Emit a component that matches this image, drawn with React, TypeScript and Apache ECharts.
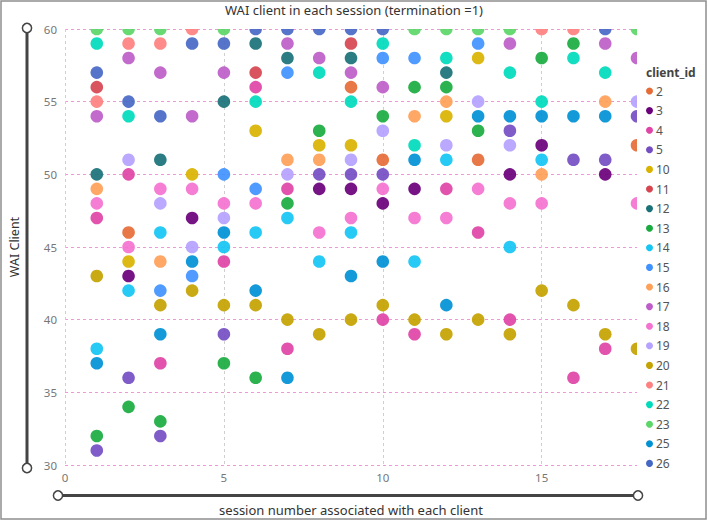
import React, { useEffect, useRef } from 'react';
import * as echarts from 'echarts';

// legend order and Power BI palette colours
const clientIds = ['2', '3', '4', '5', '10', '11', '12', '13', '14', '15', '16', '17', '18', '19', '20', '21', '22', '23', '25', '26'];
const clientColors = ['#E66C37', '#6B007B', '#E044A7', '#744EC2', '#D9B300', '#D64550', '#197278', '#1AAB40', '#15C6F4', '#4092FF', '#FFA058', '#BE5DC9', '#F472D0', '#B5A1FF', '#C4A200', '#FF8080', '#00DBBC', '#5BD667', '#0091D5', '#4668C5'];

// [session number, WAI client]
const client2 = [[2, 46], [9, 56], [10, 51], [13, 51], [18, 52]];
const client3 = [[2, 43], [4, 47], [8, 49], [9, 49], [10, 48], [11, 49], [14, 50], [15, 52], [17, 50]];
const client4 = [[1, 47], [2, 50], [3, 37], [5, 44], [6, 56], [7, 49], [7, 38], [10, 40], [11, 39], [12, 49], [13, 46], [14, 40], [16, 36], [17, 38]];
const client5 = [[1, 31], [2, 36], [3, 32], [5, 39], [8, 50], [9, 50], [10, 50], [14, 53], [16, 51], [17, 51], [18, 54]];
const client10 = [[2, 44], [4, 50], [6, 53], [8, 52], [9, 52], [12, 54], [13, 58]];
const client11 = [[1, 56], [6, 57], [9, 59]];
const client12 = [[1, 50], [3, 51], [5, 55], [6, 59], [7, 58], [9, 58], [12, 57]];
const client13 = [[1, 32], [2, 34], [3, 33], [5, 37], [6, 36], [7, 48], [8, 53], [10, 54], [11, 56], [12, 56], [13, 53], [15, 58], [16, 59]];
const client14 = [[1, 38], [2, 42], [3, 46], [5, 45], [6, 46], [7, 47], [8, 44], [9, 46], [11, 44], [12, 51], [14, 45], [15, 51]];
const client15 = [[3, 42], [4, 43], [5, 50], [6, 49], [7, 57], [10, 58], [11, 58], [13, 59]];
const client16 = [[1, 49], [3, 44], [7, 51], [8, 51], [11, 54], [12, 55], [15, 50], [17, 55]];
const client17 = [[1, 54], [2, 58], [3, 57], [4, 54], [5, 57], [7, 59], [8, 58], [9, 57], [10, 56], [14, 59], [17, 59], [18, 58]];
const client18 = [[1, 48], [2, 45], [3, 49], [4, 49], [5, 48], [6, 48], [8, 46], [9, 47], [10, 49], [11, 47], [12, 47], [13, 49], [14, 48], [15, 48], [18, 48]];
const client19 = [[2, 51], [3, 48], [4, 45], [5, 47], [7, 50], [9, 51], [10, 53], [12, 52], [13, 55], [14, 52], [18, 55]];
const client20 = [[1, 43], [3, 41], [4, 42], [5, 41], [6, 41], [7, 40], [8, 39], [9, 40], [10, 41], [11, 40], [12, 39], [13, 40], [14, 39], [15, 42], [16, 41], [17, 39], [18, 38]];
const client21 = [[1, 55], [2, 59], [3, 59], [4, 60], [15, 60], [16, 60]];
const client22 = [[1, 59], [2, 54], [6, 55], [8, 57], [9, 55], [10, 59], [11, 52], [12, 58], [14, 57], [15, 55], [16, 58], [17, 57]];
const client23 = [[1, 60], [2, 60], [3, 60], [5, 60], [11, 60], [12, 60], [13, 60], [14, 60], [18, 60]];
const client25 = [[1, 37], [3, 39], [4, 44], [5, 46], [6, 42], [7, 36], [9, 43], [10, 44], [11, 51], [12, 41], [13, 54], [14, 54], [15, 54], [16, 54], [17, 54]];
const client26 = [[1, 57], [2, 55], [3, 54], [4, 59], [5, 59], [6, 60], [7, 60], [8, 60], [9, 60], [10, 60], [17, 60]];

const clientPoints = [client2, client3, client4, client5, client10, client11, client12, client13, client14, client15, client16, client17, client18, client19, client20, client21, client22, client23, client25, client26];

const xMin = 0;
const xMax = 18;
const xInterval = 5;
const yMin = 30;
const yMax = 60;
const yInterval = 5;

const FONT = '"Noto Sans", "Open Sans", sans-serif';

export default function App() {
  const ref = useRef<HTMLDivElement>(null);

  useEffect(() => {
    if (!ref.current) return;
    const chart = echarts.init(ref.current, undefined, { renderer: 'svg' });

    const series = clientIds.map((id, i) => ({
      type: 'custom',
      name: id,
      coordinateSystem: 'cartesian2d',
      clip: true,
      encode: { x: 0, y: 1 },
      itemStyle: { color: clientColors[i] },
      data: clientPoints[i],
      renderItem: (params: any, api: any) => {
        const p = api.coord([api.value(0), api.value(1)]);
        return {
          type: 'circle',
          shape: { cx: p[0], cy: p[1], r: 6.3 },
          style: { fill: api.visual('color'), opacity: 0.92 },
        };
      },
    }));

    const option: any = {
      animation: false,
      textStyle: { fontFamily: FONT },
      title: [
        {
          text: 'WAI client in each session (termination =1)',
          left: 'center',
          top: 3,
          padding: 0,
          textStyle: { fontFamily: FONT, fontSize: 13, fontWeight: 'normal', color: '#333' },
        },
        {
          text: 'client_id',
          left: 646,
          top: 66,
          padding: 0,
          textStyle: { fontFamily: FONT, fontSize: 12, fontWeight: 'bold', color: '#444' },
        },
      ],
      legend: {
        orient: 'vertical',
        left: 646,
        top: 84,
        padding: 0,
        icon: 'circle',
        itemWidth: 7,
        itemHeight: 7,
        itemGap: 5.6,
        selectedMode: false,
        textStyle: { fontFamily: FONT, fontSize: 12, color: '#555', lineHeight: 14, padding: [0, 0, 0, -2] },
        data: clientIds,
      },
      grid: { left: 60, right: 71, top: 29, bottom: 55, containLabel: false },
      xAxis: {
        type: 'value',
        min: xMin,
        max: xMax,
        interval: xInterval,
        name: 'session number associated with each client',
        nameLocation: 'middle',
        nameGap: 38,
        nameTextStyle: { fontFamily: FONT, fontSize: 13, color: '#333' },
        axisLine: { show: false },
        axisTick: { show: false },
        axisLabel: { showMaxLabel: false, color: '#777', fontSize: 11.5, margin: 6, fontFamily: FONT },
        splitLine: {
          show: true,
          lineStyle: { color: ['#cfcfcf', '#cfcfcf', '#cfcfcf', '#cfcfcf', 'rgba(0,0,0,0)'], type: [3, 3], width: 1 },
        },
      },
      yAxis: {
        type: 'value',
        min: yMin,
        max: yMax,
        interval: yInterval,
        name: 'WAI Client',
        nameLocation: 'middle',
        nameGap: 44,
        nameTextStyle: { fontFamily: FONT, fontSize: 12.5, color: '#333' },
        axisLine: { show: false },
        axisTick: { show: false },
        axisLabel: { color: '#777', fontSize: 11.5, margin: 8, fontFamily: FONT },
        splitLine: { show: true, lineStyle: { color: '#EE99D6', type: [3, 3], width: 1 } },
      },
      graphic: [
        {
          type: 'rect',
          silent: true,
          shape: { x: 1, y: 1, width: 705, height: 518 },
          style: { fill: 'none', stroke: '#8f8f8f', lineWidth: 1.5 },
          z: 0,
        },
        {
          type: 'line',
          silent: true,
          shape: { x1: 27, y1: 28, x2: 27, y2: 468 },
          style: { stroke: '#444', lineWidth: 3 },
          z: 5,
        },
        {
          type: 'circle',
          silent: true,
          shape: { cx: 27, cy: 28, r: 4.6 },
          style: { fill: '#fff', stroke: '#444', lineWidth: 1.5 },
          z: 6,
        },
        {
          type: 'circle',
          silent: true,
          shape: { cx: 27, cy: 468, r: 4.6 },
          style: { fill: '#fff', stroke: '#444', lineWidth: 1.5 },
          z: 6,
        },
        {
          type: 'line',
          silent: true,
          shape: { x1: 58, y1: 495.5, x2: 638, y2: 495.5 },
          style: { stroke: '#444', lineWidth: 3 },
          z: 5,
        },
        {
          type: 'circle',
          silent: true,
          shape: { cx: 58, cy: 495.5, r: 4.6 },
          style: { fill: '#fff', stroke: '#444', lineWidth: 1.5 },
          z: 6,
        },
        {
          type: 'circle',
          silent: true,
          shape: { cx: 638, cy: 495.5, r: 4.6 },
          style: { fill: '#fff', stroke: '#444', lineWidth: 1.5 },
          z: 6,
        },
      ],
      series,
    };

    chart.setOption(option);
    return () => {
      chart.dispose();
    };
  }, []);

  return (
    <div
      ref={ref}
      style={{ position: 'fixed', left: 0, top: 0, width: 708, height: 521, background: '#fff' }}
    />
  );
}
